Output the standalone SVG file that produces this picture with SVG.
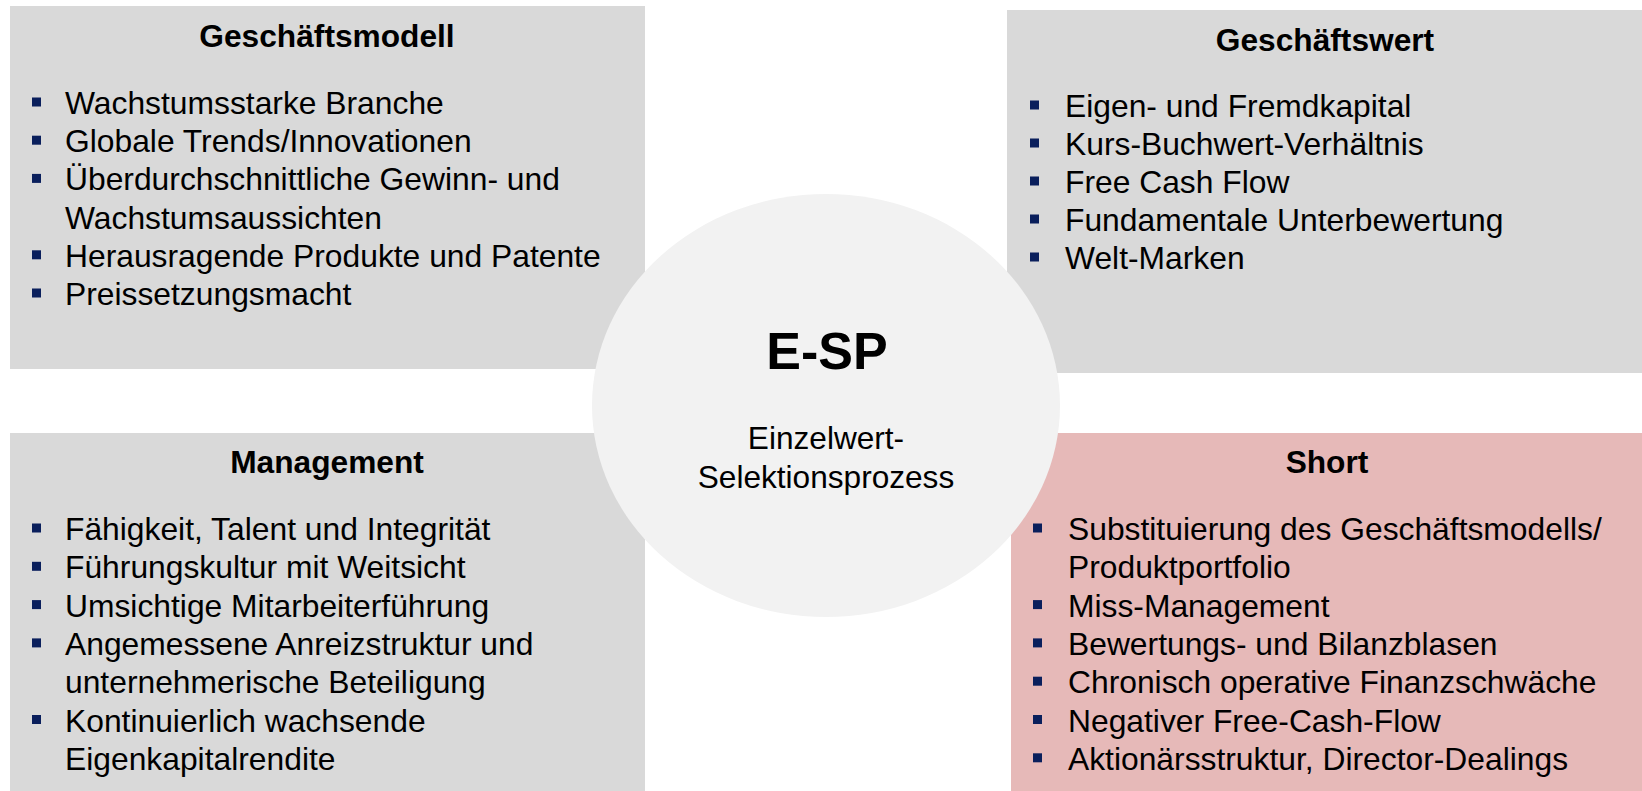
<svg xmlns="http://www.w3.org/2000/svg" width="1642" height="791" viewBox="0 0 1642 791">
<style>
.box{fill:#D9D9D9}
.pink{fill:#E6B9B8}
.title{font-family:"Liberation Sans",Arial,sans-serif;font-weight:bold;font-size:31.7px;fill:#000;text-anchor:middle}
.item{font-family:"Liberation Sans",Arial,sans-serif;font-size:31.8px;fill:#000}
.bul{fill:#0A1F5C}
.big{font-family:"Liberation Sans",Arial,sans-serif;font-weight:bold;font-size:52px;fill:#000;text-anchor:middle}
.sub{font-family:"Liberation Sans",Arial,sans-serif;font-size:31.6px;fill:#000;text-anchor:middle}
</style>
<rect width="1642" height="791" fill="#FFFFFF"/>
<g id="geschaeftsmodell">
<rect class="box" x="10" y="6" width="635" height="363"/>
<text class="title" x="327" y="47">Geschäftsmodell</text>
<rect class="bul" x="32" y="97.5" width="9" height="9"/>
<rect class="bul" x="32" y="135.7" width="9" height="9"/>
<rect class="bul" x="32" y="173.9" width="9" height="9"/>
<rect class="bul" x="32" y="250.3" width="9" height="9"/>
<rect class="bul" x="32" y="288.5" width="9" height="9"/>
<text class="item" x="65" y="114">Wachstumsstarke Branche</text>
<text class="item" x="65" y="152.2">Globale Trends/Innovationen</text>
<text class="item" x="65" y="190.4">Überdurchschnittliche Gewinn- und</text>
<text class="item" x="65" y="228.6">Wachstumsaussichten</text>
<text class="item" x="65" y="266.8">Herausragende Produkte und Patente</text>
<text class="item" x="65" y="305">Preissetzungsmacht</text>
</g>
<g id="geschaeftswert">
<rect class="box" x="1007" y="10" width="635" height="363"/>
<text class="title" x="1325" y="51">Geschäftswert</text>
<rect class="bul" x="1030" y="100.5" width="9" height="9"/>
<rect class="bul" x="1030" y="138.5" width="9" height="9"/>
<rect class="bul" x="1030" y="176.5" width="9" height="9"/>
<rect class="bul" x="1030" y="214.5" width="9" height="9"/>
<rect class="bul" x="1030" y="252.5" width="9" height="9"/>
<text class="item" x="1065" y="117">Eigen- und Fremdkapital</text>
<text class="item" x="1065" y="155">Kurs-Buchwert-Verhältnis</text>
<text class="item" x="1065" y="193">Free Cash Flow</text>
<text class="item" x="1065" y="231">Fundamentale Unterbewertung</text>
<text class="item" x="1065" y="269">Welt-Marken</text>
</g>
<g id="management">
<rect class="box" x="10" y="433" width="635" height="358"/>
<text class="title" x="327" y="473">Management</text>
<rect class="bul" x="32" y="523.5" width="9" height="9"/>
<rect class="bul" x="32" y="561.8" width="9" height="9"/>
<rect class="bul" x="32" y="600.1" width="9" height="9"/>
<rect class="bul" x="32" y="638.4" width="9" height="9"/>
<rect class="bul" x="32" y="715" width="9" height="9"/>
<text class="item" x="65" y="540">Fähigkeit, Talent und Integrität</text>
<text class="item" x="65" y="578.3">Führungskultur mit Weitsicht</text>
<text class="item" x="65" y="616.6">Umsichtige Mitarbeiterführung</text>
<text class="item" x="65" y="654.9">Angemessene Anreizstruktur und</text>
<text class="item" x="65" y="693.2">unternehmerische Beteiligung</text>
<text class="item" x="65" y="731.5">Kontinuierlich wachsende</text>
<text class="item" x="65" y="769.8">Eigenkapitalrendite</text>
</g>
<g id="short">
<rect class="pink" x="1011" y="433" width="631" height="358"/>
<text class="title" x="1327" y="473">Short</text>
<rect class="bul" x="1033" y="523.5" width="9" height="9"/>
<rect class="bul" x="1033" y="600.1" width="9" height="9"/>
<rect class="bul" x="1033" y="638.4" width="9" height="9"/>
<rect class="bul" x="1033" y="676.7" width="9" height="9"/>
<rect class="bul" x="1033" y="715" width="9" height="9"/>
<rect class="bul" x="1033" y="753.3" width="9" height="9"/>
<text class="item" x="1068" y="540">Substituierung des Geschäftsmodells/</text>
<text class="item" x="1068" y="578.3">Produktportfolio</text>
<text class="item" x="1068" y="616.6">Miss-Management</text>
<text class="item" x="1068" y="654.9">Bewertungs- und Bilanzblasen</text>
<text class="item" x="1068" y="693.2">Chronisch operative Finanzschwäche</text>
<text class="item" x="1068" y="731.5">Negativer Free-Cash-Flow</text>
<text class="item" x="1068" y="769.8">Aktionärsstruktur, Director-Dealings</text>
</g>
<g id="connectors"></g>
<g id="esp">
<ellipse cx="826" cy="405.5" rx="234" ry="211.5" fill="#F2F2F2"/>
<text class="big" x="827" y="369">E-SP</text>
<text class="sub" x="826" y="449">Einzelwert-</text>
<text class="sub" x="826" y="488">Selektionsprozess</text>
</g>
</svg>
